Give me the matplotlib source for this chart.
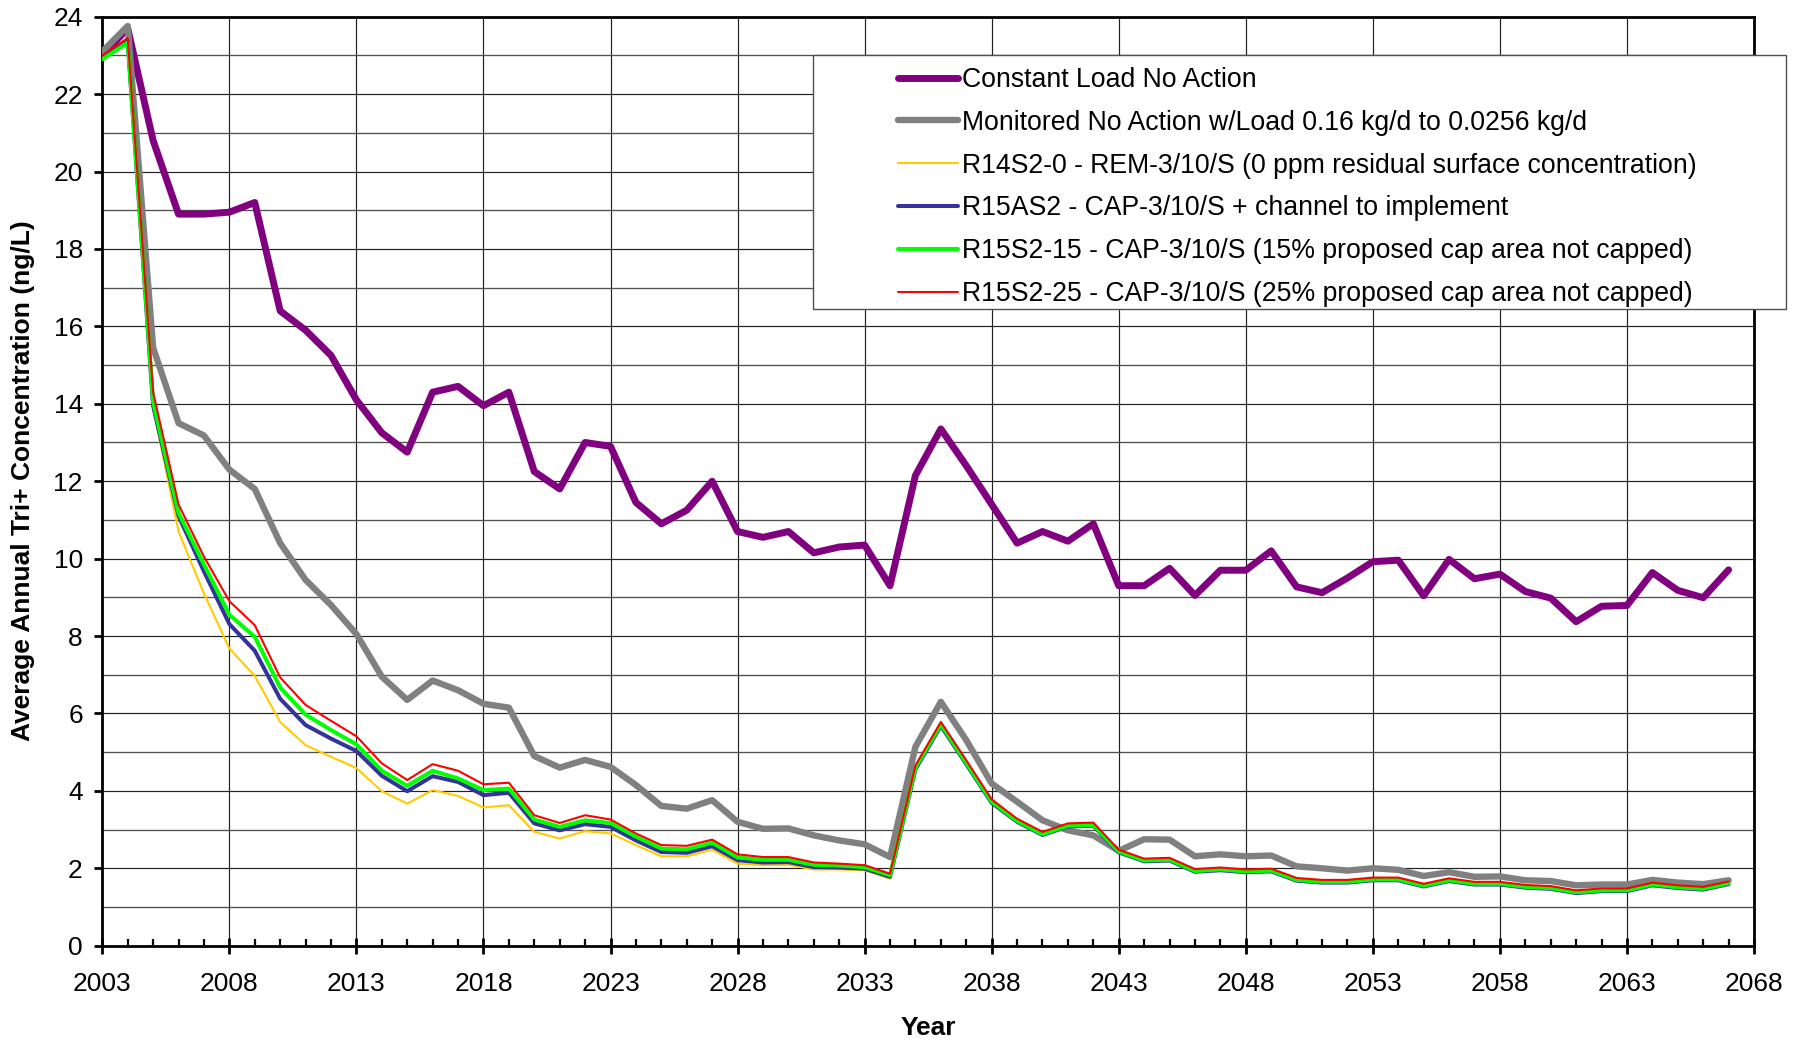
import matplotlib
matplotlib.use("Agg")
import matplotlib.pyplot as plt
from matplotlib.ticker import MultipleLocator
from matplotlib.patches import Rectangle

plt.rcParams['font.family'] = ['Liberation Sans', 'DejaVu Sans']

years = list(range(2003, 2068))

constant_load = [
    23.0, 23.7, 20.8, 18.9, 18.9, 18.95, 19.2, 16.4, 15.9, 15.25,
    14.1, 13.25, 12.75, 14.3, 14.45, 13.95, 14.3, 12.25, 11.8, 13.0,
    12.9, 11.45, 10.9, 11.25, 12.0, 10.7, 10.55, 10.7, 10.15, 10.3,
    10.35, 9.3, 12.15, 13.35, 12.4, 11.4, 10.4, 10.7, 10.45, 10.9,
    9.3, 9.3, 9.75, 9.05, 9.7, 9.7, 10.2, 9.27, 9.12, 9.5,
    9.92, 9.96, 9.04, 9.98, 9.48, 9.6, 9.15, 8.98, 8.37, 8.77,
    8.79, 9.64, 9.18, 8.99, 9.71]

monitored = [
    23.1, 23.76, 15.45, 13.5, 13.18, 12.3, 11.8, 10.4, 9.45, 8.8,
    8.05, 6.95, 6.35, 6.85, 6.6, 6.25, 6.15, 4.9, 4.6, 4.8,
    4.62, 4.15, 3.61, 3.54, 3.76, 3.2, 3.02, 3.03, 2.85, 2.72,
    2.62, 2.29, 5.14, 6.3, 5.31, 4.19, 3.72, 3.24, 2.98, 2.85,
    2.45, 2.75, 2.74, 2.31, 2.36, 2.31, 2.33, 2.05, 2.0, 1.94,
    2.0, 1.96, 1.8, 1.9, 1.78, 1.79, 1.69, 1.67, 1.56, 1.58,
    1.58, 1.7, 1.63, 1.59, 1.69]

r14s2_0 = [
    22.95, 23.4, 13.9, 10.7, 9.1, 7.68, 6.97, 5.78, 5.18, 4.88,
    4.59, 3.99, 3.67, 4.02, 3.87, 3.57, 3.63, 2.94, 2.77, 2.96,
    2.9, 2.6, 2.31, 2.31, 2.48, 2.12, 2.08, 2.09, 1.97, 1.97,
    1.95, 1.73, 4.54, 5.66, 4.68, 3.68, 3.19, 2.85, 3.07, 3.09,
    2.4, 2.17, 2.19, 1.9, 1.94, 1.89, 1.91, 1.67, 1.62, 1.62,
    1.68, 1.68, 1.52, 1.66, 1.57, 1.57, 1.49, 1.46, 1.35, 1.4,
    1.4, 1.55, 1.48, 1.44, 1.58]

r15as2 = [
    22.95, 23.38, 13.95, 11.1, 9.67, 8.31, 7.62, 6.38, 5.7, 5.35,
    5.03, 4.39, 3.99, 4.38, 4.23, 3.89, 3.95, 3.16, 2.98, 3.14,
    3.07, 2.72, 2.42, 2.4, 2.57, 2.21, 2.15, 2.16, 2.03, 2.02,
    1.99, 1.78, 4.56, 5.68, 4.69, 3.69, 3.2, 2.86, 3.08, 3.1,
    2.41, 2.18, 2.2, 1.91, 1.95, 1.9, 1.92, 1.68, 1.63, 1.63,
    1.69, 1.69, 1.53, 1.67, 1.58, 1.58, 1.5, 1.47, 1.36, 1.41,
    1.41, 1.56, 1.49, 1.45, 1.59]

r15s2_15 = [
    22.9, 23.33, 14.05, 11.18, 9.85, 8.55, 7.98, 6.67, 5.97, 5.57,
    5.2, 4.52, 4.13, 4.52, 4.32, 4.02, 4.06, 3.26, 3.07, 3.24,
    3.17, 2.82, 2.51, 2.49, 2.66, 2.28, 2.22, 2.22, 2.09, 2.07,
    2.03, 1.82, 4.6, 5.72, 4.72, 3.72, 3.22, 2.88, 3.1, 3.12,
    2.43, 2.2, 2.22, 1.93, 1.97, 1.92, 1.94, 1.7, 1.65, 1.65,
    1.71, 1.71, 1.55, 1.69, 1.6, 1.6, 1.52, 1.49, 1.38, 1.43,
    1.43, 1.58, 1.51, 1.47, 1.61]

r15s2_25 = [
    23.0, 23.45, 14.3, 11.4, 10.05, 8.9, 8.28, 6.93, 6.22, 5.81,
    5.41, 4.71, 4.28, 4.69, 4.52, 4.17, 4.21, 3.37, 3.17, 3.37,
    3.26, 2.9, 2.6, 2.58, 2.74, 2.36, 2.29, 2.29, 2.15, 2.12,
    2.08, 1.86, 4.66, 5.78, 4.79, 3.78, 3.28, 2.94, 3.16, 3.18,
    2.48, 2.25, 2.27, 1.98, 2.02, 1.97, 1.99, 1.75, 1.7, 1.7,
    1.76, 1.76, 1.6, 1.74, 1.65, 1.65, 1.57, 1.54, 1.43, 1.48,
    1.48, 1.63, 1.56, 1.52, 1.66]

x_ticks = list(range(2003, 2069, 5))

labels = [
    "Constant Load No Action",
    "Monitored No Action w/Load 0.16 kg/d to 0.0256 kg/d",
    "R14S2-0 - REM-3/10/S (0 ppm residual surface concentration)",
    "R15AS2 - CAP-3/10/S + channel to implement",
    "R15S2-15 - CAP-3/10/S (15% proposed cap area not capped)",
    "R15S2-25 - CAP-3/10/S (25% proposed cap area not capped)",
]
series = [constant_load, monitored, r14s2_0, r15as2, r15s2_15, r15s2_25]
colors = ["#800080", "#808080", "#FFCC00", "#333399", "#00FF00", "#FF0000"]
widths = [5.0, 4.6, 1.5, 2.9, 2.9, 1.5]

W, H = 1805, 1043
fig = plt.figure(figsize=(W / 100, H / 100), dpi=100)
ax = fig.add_axes([102.3 / W, 1 - 945.7 / H, (1754 - 102.3) / W, (945.7 - 16.7) / H])

handles = []
for ys, c, lw, lab in zip(series, colors, widths, labels):
    h, = ax.plot(years, ys, color=c, lw=lw, label=lab,
                 solid_joinstyle='round', solid_capstyle='round', zorder=3)
    handles.append(h)

ax.set_xlim(2003, 2068)
ax.set_ylim(0, 24)
ax.set_xticks(x_ticks)
ax.xaxis.set_minor_locator(MultipleLocator(1))
ax.yaxis.set_major_locator(MultipleLocator(2))
ax.yaxis.set_minor_locator(MultipleLocator(1))

ax.set_axisbelow(True)
ax.grid(which='major', axis='both', color='#202020', lw=0.85)
ax.grid(which='minor', axis='y', color='#505050', lw=0.95)

for s in ax.spines.values():
    s.set_linewidth(2.0)
    s.set_color('black')

ax.tick_params(axis='x', which='major', direction='inout', length=12, width=2,
               labelsize=19, pad=13)
ax.tick_params(axis='x', which='minor', direction='in', length=5, width=1.6)
ax.tick_params(axis='y', which='major', direction='out', length=6, width=2,
               labelsize=19, pad=8)
ax.tick_params(axis='y', which='minor', length=0)

fig.text(928 / W, 1 - 1028 / H, "Year", fontsize=19, fontweight='bold',
         ha='center', va='center')
fig.text(23 / W, 1 - 480.6 / H, "Average Annual Tri+ Concentration (ng/L)",
         fontsize=19, fontweight='bold', rotation=90, ha='center', va='center')

# legend frame
rect = Rectangle((813 / W, 1 - 308.5 / H), (1786 - 813) / W, (308.5 - 55) / H,
                 transform=fig.transFigure, facecolor='white',
                 edgecolor='#505050', lw=1.0, zorder=10)
fig.add_artist(rect)

leg = fig.legend(handles=handles, labels=labels, loc='upper left',
                 bbox_to_anchor=(898 / W, 1 - 67 / H), frameon=False,
                 fontsize=19.2, handlelength=2.25, handletextpad=0.15,
                 labelspacing=0.63, borderpad=0, borderaxespad=0)
leg.set_zorder(11)

fig.savefig("out.png", dpi=100)
